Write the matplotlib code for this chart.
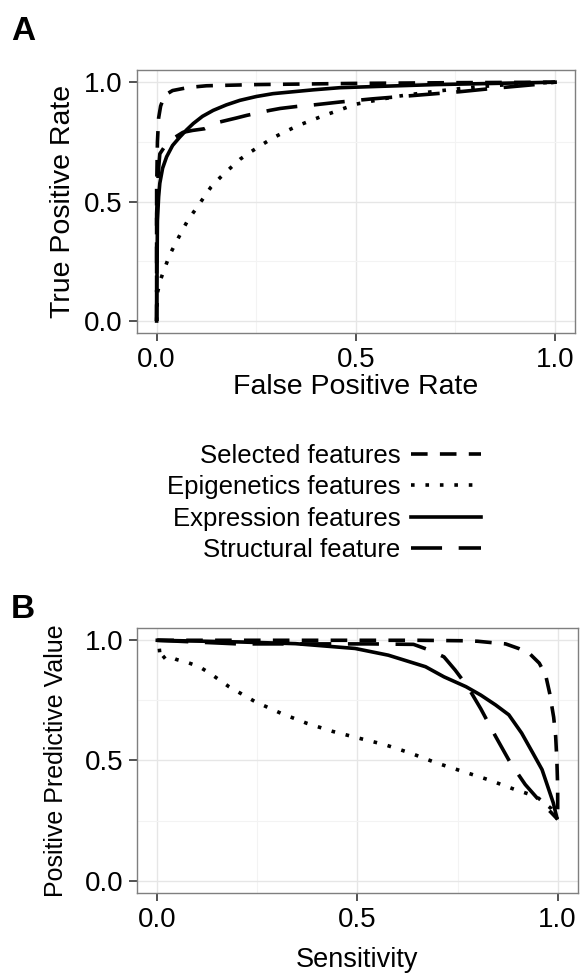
import matplotlib
matplotlib.use("Agg")
from matplotlib import pyplot as plt
from matplotlib.ticker import MultipleLocator

plt.rcParams['font.family'] = ['Liberation Sans', 'DejaVu Sans']

# ROC curves (panel A)
roc_sel_fpr = [0, 0, 0.002, 0.005, 0.01, 0.02, 0.04, 0.08, 0.125, 0.25, 0.5, 0.75, 1.0]
roc_sel_tpr = [0, 0.55, 0.75, 0.85, 0.9, 0.945, 0.965, 0.978, 0.985, 0.99, 0.995, 0.998, 1.0]

roc_epi_fpr = [0, 0.002, 0.01, 0.02, 0.033, 0.048, 0.063, 0.079, 0.098, 0.117, 0.136, 0.159,
               0.184, 0.209, 0.236, 0.265, 0.292, 0.323, 0.353, 0.384, 0.416, 0.5, 0.6, 0.7,
               0.8, 0.9, 1.0]
roc_epi_tpr = [0, 0.118, 0.174, 0.22, 0.278, 0.327, 0.375, 0.424, 0.468, 0.514, 0.56, 0.6,
               0.639, 0.677, 0.708, 0.739, 0.767, 0.793, 0.817, 0.8375, 0.858, 0.908, 0.94,
               0.962, 0.98, 0.992, 1.0]

roc_expr_fpr = [0, 0.002, 0.005, 0.008, 0.015, 0.025, 0.04, 0.058, 0.075, 0.092, 0.115, 0.142,
                0.175, 0.209, 0.25, 0.292, 0.393, 0.46, 0.55, 0.7, 0.85, 1.0]
roc_expr_tpr = [0, 0.42, 0.52, 0.577, 0.64, 0.6875, 0.735, 0.77, 0.80, 0.827, 0.857, 0.882,
                0.905, 0.924, 0.94, 0.952, 0.968, 0.977, 0.982, 0.99, 0.995, 1.0]

roc_str_fpr = [0, 0, 0.004, 0.008, 0.02, 0.042, 0.066, 0.09, 0.12, 0.15, 0.2, 0.226, 0.284,
               0.31, 0.36, 0.384, 0.46, 0.54, 0.65, 0.76, 0.85, 0.95, 1.0]
roc_str_tpr = [0, 0.45, 0.62, 0.70, 0.73, 0.765, 0.79, 0.798, 0.805, 0.83, 0.85, 0.861, 0.882,
               0.89, 0.9, 0.903, 0.917, 0.93, 0.945, 0.96, 0.975, 0.99, 1.0]

# sensitivity / PPV curves (panel B)
pr_sel_sens = [0, 0.2, 0.4, 0.65, 0.77, 0.8, 0.837, 0.87, 0.904, 0.929, 0.954, 0.97, 0.98,
               0.99, 0.995, 0.998, 1.0, 1.0]
pr_sel_ppv = [1.0, 1.0, 1.0, 1.0, 0.998, 0.996, 0.99, 0.985, 0.965, 0.946, 0.905, 0.855, 0.78,
              0.68, 0.6, 0.5, 0.39, 0.255]

pr_epi_sens = [0.005, 0.008, 0.023, 0.048, 0.075, 0.105, 0.132, 0.179, 0.244, 0.308, 0.373,
               0.438, 0.503, 0.568, 0.632, 0.697, 0.762, 0.827, 0.892, 0.947, 0.984, 1.0]
pr_epi_ppv = [0.965, 0.917, 0.938, 0.92, 0.908, 0.89, 0.862, 0.807, 0.745, 0.697, 0.655,
              0.621, 0.593, 0.566, 0.531, 0.49, 0.455, 0.42, 0.38, 0.35, 0.3, 0.26]

pr_expr_sens = [0, 0.206, 0.345, 0.494, 0.577, 0.67, 0.716, 0.771, 0.808, 0.845, 0.878, 0.91,
                0.938, 0.961, 0.975, 0.989, 0.998]
pr_expr_ppv = [1.0, 0.993, 0.986, 0.966, 0.938, 0.89, 0.848, 0.807, 0.772, 0.731, 0.69, 0.614,
               0.531, 0.462, 0.393, 0.324, 0.262]

pr_str_sens = [0, 0.2, 0.53, 0.64, 0.68, 0.716, 0.744, 0.776, 0.808, 0.845, 0.882, 0.919,
               0.956, 0.983, 1.0]
pr_str_ppv = [1.0, 0.985, 0.985, 0.983, 0.959, 0.931, 0.876, 0.805, 0.715, 0.6, 0.49, 0.4,
              0.33, 0.285, 0.255]

labels = ['Selected features', 'Epigenetics features', 'Expression features', 'Structural feature']
dash_styles = [(0, (4.6, 3.4)), (0, (1, 3)), '-', (0, (8.6, 4.6))]
LW = 2.6


def style_axes(ax):
    ax.set_xlim(-0.05, 1.05)
    ax.set_ylim(-0.05, 1.05)
    ax.xaxis.set_major_locator(MultipleLocator(0.5))
    ax.yaxis.set_major_locator(MultipleLocator(0.5))
    ax.xaxis.set_minor_locator(MultipleLocator(0.25))
    ax.yaxis.set_minor_locator(MultipleLocator(0.25))
    ax.xaxis.set_major_formatter(plt.FormatStrFormatter('%.1f'))
    ax.yaxis.set_major_formatter(plt.FormatStrFormatter('%.1f'))
    ax.grid(which='major', color='#e6e6e6', lw=1.0)
    ax.grid(which='minor', color='#f3f3f3', lw=0.8)
    ax.set_axisbelow(True)
    ax.tick_params(which='major', direction='out', length=6, width=1.2, color='#333333',
                   labelsize=20, pad=4)
    ax.tick_params(which='minor', length=0)
    for sp in ax.spines.values():
        sp.set_color('#7f7f7f')
        sp.set_linewidth(1.0)


fig = plt.figure(figsize=(5.81, 9.73), dpi=100)

axA = fig.add_axes([0.2353, 0.6578, 0.7544, 0.2700])
axB = fig.add_axes([0.2363, 0.0825, 0.7580, 0.2718])

roc_data = [(roc_sel_fpr, roc_sel_tpr), (roc_epi_fpr, roc_epi_tpr),
            (roc_expr_fpr, roc_expr_tpr), (roc_str_fpr, roc_str_tpr)]
pr_data = [(pr_sel_sens, pr_sel_ppv), (pr_epi_sens, pr_epi_ppv),
           (pr_expr_sens, pr_expr_ppv), (pr_str_sens, pr_str_ppv)]

handles = []
for (x, y), ls, lab in zip(roc_data, dash_styles, labels):
    h, = axA.plot(x, y, color='black', lw=LW, linestyle=ls, label=lab)
    handles.append(h)
for (x, y), ls in zip(pr_data, dash_styles):
    axB.plot(x, y, color='black', lw=LW, linestyle=ls)

style_axes(axA)
style_axes(axB)

axA.set_xlabel('False Positive Rate', fontsize=20.5, labelpad=1)
axA.set_ylabel('True Positive Rate', fontsize=20.5, labelpad=6)
axB.set_xlabel('Sensitivity', fontsize=19.5, labelpad=10)
axB.set_ylabel('Positive Predictive Value', fontsize=18, labelpad=12)

fig.legend(handles=handles, loc='center', bbox_to_anchor=(324 / 581, 1 - 503 / 973),
           frameon=False, markerfirst=False, fontsize=18.5, handlelength=2.75,
           handletextpad=0.4, labelspacing=0.28, borderpad=0.2)

fig.text(0.019, 1 - 40 / 973, 'A', fontsize=24, fontweight='bold', va='baseline')
fig.text(0.019, 1 - 618 / 973, 'B', fontsize=24, fontweight='bold', va='baseline')

fig.savefig('out.png', dpi=100)
